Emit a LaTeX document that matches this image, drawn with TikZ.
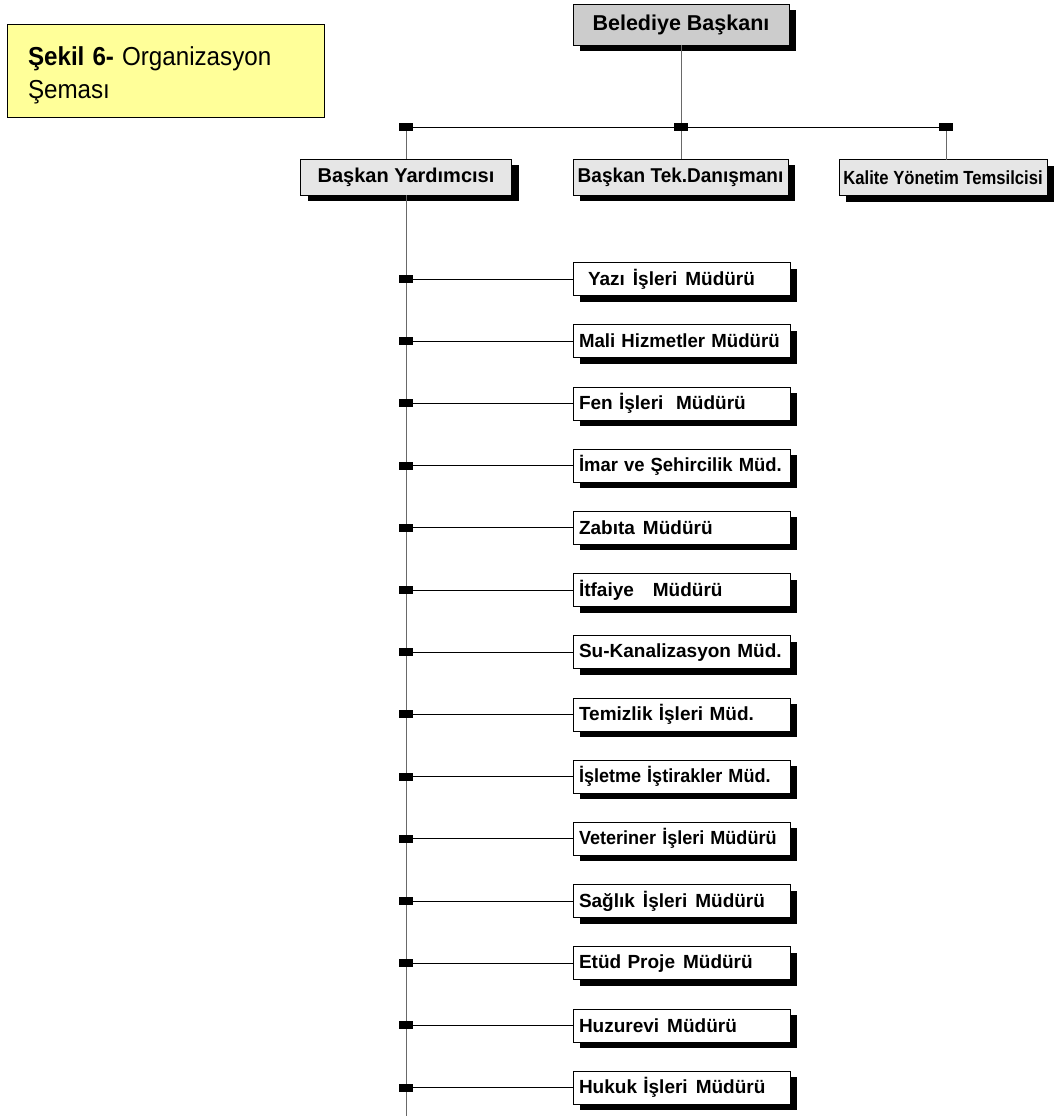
\documentclass[tikz,border=0pt]{standalone}
\usepackage{fontspec}
\setmainfont{Liberation Sans}
\usepackage{graphicx}
\usetikzlibrary{shadows}

\definecolor{noteyellow}{RGB}{255,255,153}
\definecolor{headgray}{RGB}{204,204,204}
\definecolor{subgray}{RGB}{230,230,230}
\definecolor{linegray}{RGB}{105,105,105}
\newcommand{\wsp}{\hspace{8pt}}

\begin{document}
\begin{tikzpicture}[x=1pt, y=-1pt,
      every node/.style = {shape=rectangle, draw, outer sep=0pt, line width=0.8pt,
        font=\bfseries\fontsize{19}{21}\selectfont},
      box/.style = {drop shadow={shadow xshift=7pt, shadow yshift=-6pt, fill=black, opacity=1}},
      headbox/.style = {box, fill=headgray, minimum width=216pt, minimum height=41pt,
        font=\bfseries\fontsize{21.5}{24}\selectfont},
      subbox/.style = {box, fill=subgray, minimum width=211pt, minimum height=36pt,
        inner xsep=2pt, font=\bfseries\fontsize{20}{22}\selectfont},
      unitbox/.style = {box, fill=white, minimum height=33pt, text width=205pt,
        inner xsep=6pt, align=left},
      titlebox/.style = {fill=noteyellow, line width=1pt, minimum width=317pt, minimum height=92pt,
        text width=275pt, inner xsep=21pt, align=left,
        font=\normalfont\fontsize{26}{33}\selectfont},
      knot/.style = {fill=black, draw=none, minimum width=14pt, minimum height=8pt, inner sep=0pt},
      hline/.style = {line width=0.8pt},
      vline/.style = {line width=1pt, draw=linegray}]
  \useasboundingbox (0,0) rectangle (1057,1116);

  % note box
  \node[titlebox] (sekil) at (165.5,71)
    {\rule{0pt}{27pt}\scalebox{0.93}[1]{\textbf{Şekil 6-} Organizasyon}\\\scalebox{0.93}[1]{Şeması}};

  % top levels
  \node[headbox] (baskan) at (681,24.5) {Belediye Başkanı};
  \node[subbox] (yard) at (406,177) {Başkan Yardımcısı};
  \node[subbox, minimum width=215pt] (danis) at (680.5,177) {\scalebox{0.95}[1]{Başkan Tek.Danışmanı}};
  \node[subbox, minimum width=208pt, font=\bfseries\fontsize{19}{22}\selectfont] (kalite) at (943,177.5)
    {\scalebox{0.875}[1]{Kalite Yönetim Temsilcisi}};

  \node[knot] (kyard) at (406,127) {};
  \node[knot] (kdanis) at (681,127) {};
  \node[knot] (kkalite) at (946,127) {};

  \draw[vline] (baskan.south) -- (kdanis.north);
  \draw[hline] (kyard.east) -- (kdanis.west);
  \draw[hline] (kdanis.east) -- (kkalite.west);
  \draw[vline] (kyard.south) -- (yard.north);
  \draw[vline] (kdanis.south) -- (kdanis.south |- danis.north);
  \draw[vline] (kkalite.south) -- (kkalite.south |- kalite.north);

  % directorates
  \coordinate (trunkend) at (406,1116);
  \draw[vline] (yard.south) -- (trunkend);

  \foreach \name/\txt [count=\i from 0] in {
      yazi/{\hspace*{9pt}Yazı\wsp İşleri\wsp Müdürü},
      mali/{\scalebox{0.98}[1]{Mali Hizmetler Müdürü}},
      fen/{Fen İşleri\ \ Müdürü},
      imar/{\scalebox{0.97}[1]{İmar ve Şehircilik Müd.}},
      zabita/{Zabıta\wsp Müdürü},
      itfaiye/{İtfaiye\ \ \ Müdürü},
      su/Su-Kanalizasyon Müd.,
      temizlik/Temizlik İşleri Müd.,
      isletme/{\scalebox{0.95}[1]{İşletme İştirakler Müd.}},
      veteriner/{\scalebox{0.95}[1]{Veteriner İşleri Müdürü}},
      saglik/{Sağlık\wsp İşleri\wsp Müdürü},
      etud/{Etüd Proje\wsp Müdürü},
      huzurevi/{Huzurevi\wsp Müdürü},
      hukuk/{Hukuk İşleri\wsp Müdürü}} {
    \node[knot] (k\name) at (406,{279+\i*62.2}) {};
    \node[unitbox] (\name) at (681.5,{279+\i*62.2}) {\txt};
    \draw[hline] (k\name.east) -- (\name.west);
  }
\end{tikzpicture}
\end{document}
